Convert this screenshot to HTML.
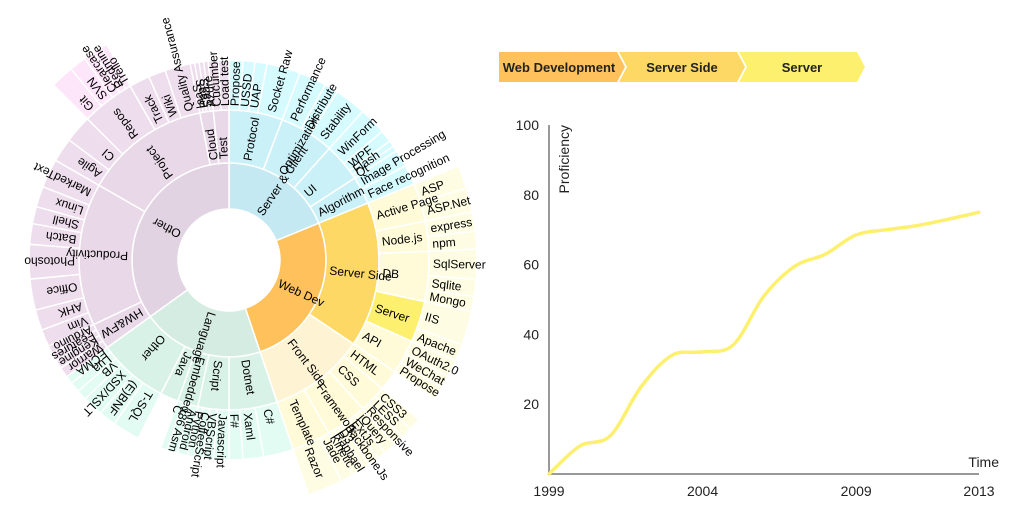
<!DOCTYPE html>
<html><head><meta charset="utf-8">
<style>
html,body{margin:0;padding:0;background:#fff;}
body{width:1015px;height:514px;overflow:hidden;position:relative;font-family:"Liberation Sans",sans-serif;}
svg{position:absolute;left:0;top:0;}
</style></head>
<body>
<svg id="chart" width="1015" height="514">
  <g id="sun"></g>
  <g id="crumbs"></g>
  <g id="line"></g>
</svg>
<script>
// ---------- Sunburst data (leaf value ~ angular share) ----------
const tree = {name:"root",children:[
 {name:"Server & Client",children:[
  {name:"Protocol",children:[{name:"Propose",v:4},{name:"USSD",v:3.5},{name:"UAP",v:3.5},{name:"Socket Raw",v:9.8}]},
  {name:"Optimization",children:[{name:"Performance",v:8},{name:"Distribute",v:4},{name:"Stability",v:9.2}]},
  {name:"UI",children:[{name:"WinForm",v:8},{name:"WPF",v:3.5},{name:"Flash",v:1.8},{name:"Qt",v:1.6}]},
  {name:"Algorithm",children:[{name:"Image Processing",v:5},{name:"Face recognition",v:5.8}]}]},
 {name:"Web Dev",children:[
  {name:"Server Side",children:[
   {name:"Active Page",children:[{name:"ASP",v:5.5},{name:"ASP.Net",v:5.6}]},
   {name:"Node.js",children:[{name:"express",v:4.5},{name:"npm",v:4.2}]},
   {name:"DB",children:[{name:"SqlServer",v:7},{name:"Sqlite",v:4},{name:"Mongo",v:3.5}]},
   {name:"Server",children:[{name:"IIS",v:8},{name:"Apache",v:4}]},
   {name:"API",children:[{name:"OAuth2.0",v:4},{name:"WeChat",v:3},{name:"Propose",v:3}]}]},
  {name:"Front Side",children:[
   {name:"HTML",v:6},
   {name:"CSS",children:[{name:"CSS3",v:3},{name:"LESS",v:2.5},{name:"Responsive",v:2.5}]},
   {name:"Framework",children:[{name:"jQuery",v:3},{name:"ExtJs",v:2},{name:"BackboneJs",v:2.5},{name:"D3",v:1.5},{name:"Raphael",v:1.5},{name:"Kinetic",v:1.5}]},
   {name:"Template",children:[{name:"Jade",v:3},{name:"Razor",v:8.3}]}]}]},
 {name:"Language",children:[
  {name:"Dotnet",children:[{name:"C#",v:8.7},{name:"Xaml",v:6},{name:"F#",v:4}]},
  {name:"Script",children:[{name:"Javascript",v:4.5},{name:"VBScript",v:3},{name:"CoffeeScript",v:2.5},{name:"Python",v:2}]},
  {name:"Embedded",children:[{name:"Android",v:3},{name:"x86 Asm",v:3},{name:"C",v:2}]},
  {name:"Java",v:7},
  {name:"Other",children:[{name:"T-SQL",v:8},{name:"(E)BNF",v:5},{name:"XSD/XSLT",v:6},{name:"VB",v:3},{name:"Lua",v:3},{name:"ECMA",v:2.3}]}]},
 {name:"Other",children:[
  {name:"HW&FW",children:[{name:"Warrior",v:3},{name:"Kengine",v:2.5},{name:"Features",v:2.4},{name:"Arduino",v:2.3}]},
  {name:"Productivity",children:[{name:"Vim",v:5},{name:"AHK",v:6},{name:"Office",v:9},{name:"Photosho",v:10},{name:"Batch",v:6},{name:"Shell",v:5},{name:"Linux",v:6},{name:"MarkedText",v:8.4}]},
  {name:"Project",children:[{name:"Agile",v:7},{name:"CI",v:8},
   {name:"Repos",children:[{name:"Git",v:5.5},{name:"SVN",v:4},{name:"Clearcase",v:2.5},{name:"Redmine",v:2},{name:"Trello",v:1.5}]},
   {name:"Track",v:6},{name:"Wiki",v:5},{name:"Quality Assurance",v:7.4}]},
  {name:"Cloud",children:[{name:"IaaS",v:1.3},{name:"PaaS",v:1.3},{name:"SaaS",v:1.3},{name:"Azure",v:1.3}]},
  {name:"Test",children:[{name:"Cucumber",v:3},{name:"Load test",v:3}]}]}
]};
const ringRadii = [51, 97, 150, 200, 248];
const palettes = {
 "Server & Client":["#c5e9f3","#cbf1f8","#d6fbff","#dcfdff"],
 "Web Dev":["#fec15b","#fed865","#fffbd9","#fefde3"],
 "Language":["#d5ece2","#d9f2e8","#e2fbf3","#e8fdf6"],
 "Other":["#e1d3e2","#e8d8e8","#eedded","#fde6f9"]
};
// ---------- Line chart data ----------
const years = [1999,2000,2001,2002,2003,2004,2005,2006,2007,2008,2009,2010,2011,2012,2013];
const proficiency = [0,8,11,25,34,35,37,51,59.5,63,68.5,70,71.2,73,75];
const yTicks = [20,40,60,80,100];
const xTicks = [1999,2004,2009,2013];
const crumbs = ["Web Development","Server Side","Server"];
const crumbColors = ["#fec15b","#fed865","#fdf06f"];

const NS="http://www.w3.org/2000/svg";
function mk(tag,attrs,parent){const e=document.createElementNS(NS,tag);for(const k in attrs)e.setAttribute(k,attrs[k]);parent.appendChild(e);return e;}
function slug(s){return s.toLowerCase().replace(/[^a-z0-9]+/g,'-').replace(/^-|-$/g,'');}

// ---------- Sunburst ----------
const cx=229, cy=260;
function sum(n){if(n.children){n.value=n.children.reduce((a,c)=>a+sum(c),0);}else n.value=n.v;return n.value;}
sum(tree);
function rad(deg){return deg*Math.PI/180;}
function pt(r,a){return [cx+r*Math.sin(rad(a)), cy-r*Math.cos(rad(a))];}
function arcPath(a0,a1,r0,r1){
  const large=(a1-a0)>180?1:0;
  const p0=pt(r1,a0),p1=pt(r1,a1),p2=pt(r0,a1),p3=pt(r0,a0);
  return `M${p0[0]},${p0[1]}A${r1},${r1} 0 ${large} 1 ${p1[0]},${p1[1]}L${p2[0]},${p2[1]}A${r0},${r0} 0 ${large} 0 ${p3[0]},${p3[1]}Z`;
}
const sun=document.getElementById('sun');
const labels=[];
function layout(node,a0,a1,depth,top){
  if(depth>0){
    const pal=palettes[top];
    let col=pal[Math.min(depth-1,3)];
    if(node.name==="Server"&&depth===3)col="#fdf06f";
    if(node.name==="Front Side")col="#fef4d4";
    if(top==="Web Dev"&&depth===3&&node.name!=="Server")col= "#fffbd9";
    const p=mk('path',{d:arcPath(a0,a1,ringRadii[depth-1],ringRadii[depth]),fill:col,stroke:"#fff","stroke-width":1.5},sun);
    
    
    labels.push({name:node.name,a:(a0+a1)/2,r:ringRadii[depth-1]+4});
  }
  if(node.children){
    let a=a0;
    const total=node.value;
    for(const c of node.children){
      const span=(a1-a0)*c.value/total;
      layout(c,a,a+span,depth+1,depth===0?c.name:top);
      a+=span;
    }
  }
}
layout(tree,0,360,0,null);
for(const l of labels){
  const t=mk('text',{x:l.r,y:0,dy:"0.35em",transform:`translate(${cx},${cy}) rotate(${l.a-90})`,"font-size":12,fill:"#000","font-family":"Liberation Sans, sans-serif"},sun);
  t.textContent=l.name;
  
  
}

// ---------- Breadcrumbs ----------
const cg=document.getElementById('crumbs');
crumbs.forEach((c,i)=>{
  const x=499+i*120, w=118, y=52, h=30, tip=8;
  const pts = i===0
    ? `${x},${y} ${x+w},${y} ${x+w+tip},${y+h/2} ${x+w},${y+h} ${x},${y+h}`
    : `${x},${y} ${x+w},${y} ${x+w+tip},${y+h/2} ${x+w},${y+h} ${x},${y+h} ${x+tip},${y+h/2}`;
  const p=mk('polygon',{points:pts,fill:crumbColors[i]},cg);
  
  
  const t=mk('text',{x:x+(i===0?w/2+1:w/2+4),y:y+h/2+5,"text-anchor":"middle","font-size":13,"font-weight":"bold",fill:"#222"},cg);
  t.textContent=c;
  
  
});

// ---------- Line chart ----------
const lg=document.getElementById('line');
const X0=549,X1=979,Y0=474,Y1=125;
function xs(yr){return X0+(yr-1999)/(2013-1999)*(X1-X0);}
function ys(v){return Y0-(v/100)*(Y0-Y1);}
const ya=mk('line',{x1:X0,y1:Y1,x2:X0,y2:Y0,stroke:"#999","stroke-width":2},lg);

const xa=mk('line',{x1:X0,y1:Y0,x2:X1,y2:Y0,stroke:"#999","stroke-width":2},lg);

yTicks.forEach(v=>{
  const t=mk('text',{x:539,y:ys(v)+5,"text-anchor":"end","font-size":14,fill:"#222"},lg);
  t.textContent=v;
  
  
});
xTicks.forEach(v=>{
  const t=mk('text',{x:xs(v),y:496,"text-anchor":"middle","font-size":14,fill:"#222"},lg);
  t.textContent=v;
  
  
});
const yt=mk('text',{x:0,y:0,transform:`translate(569,125) rotate(-90)`,"text-anchor":"end","font-size":14,fill:"#222"},lg);
yt.textContent="Proficiency";

const xt=mk('text',{x:999,y:467,"text-anchor":"end","font-size":14,fill:"#222"},lg);
xt.textContent="Time";

const P=years.map((y,i)=>[xs(y),ys(proficiency[i])]);
let d=`M${P[0][0]},${P[0][1]}`;
for(let i=0;i<P.length-1;i++){
  const p0=P[Math.max(i-1,0)],p1=P[i],p2=P[i+1],p3=P[Math.min(i+2,P.length-1)];
  const c1=[p1[0]+(p2[0]-p0[0])/6,p1[1]+(p2[1]-p0[1])/6];
  const c2=[p2[0]-(p3[0]-p1[0])/6,p2[1]-(p3[1]-p1[1])/6];
  d+=`C${c1[0]},${c1[1]} ${c2[0]},${c2[1]} ${p2[0]},${p2[1]}`;
}
const ln=mk('path',{d:d,fill:"none",stroke:"#fdf06f","stroke-width":3.5,"stroke-linecap":"round"},lg);


</script>
</body></html>
